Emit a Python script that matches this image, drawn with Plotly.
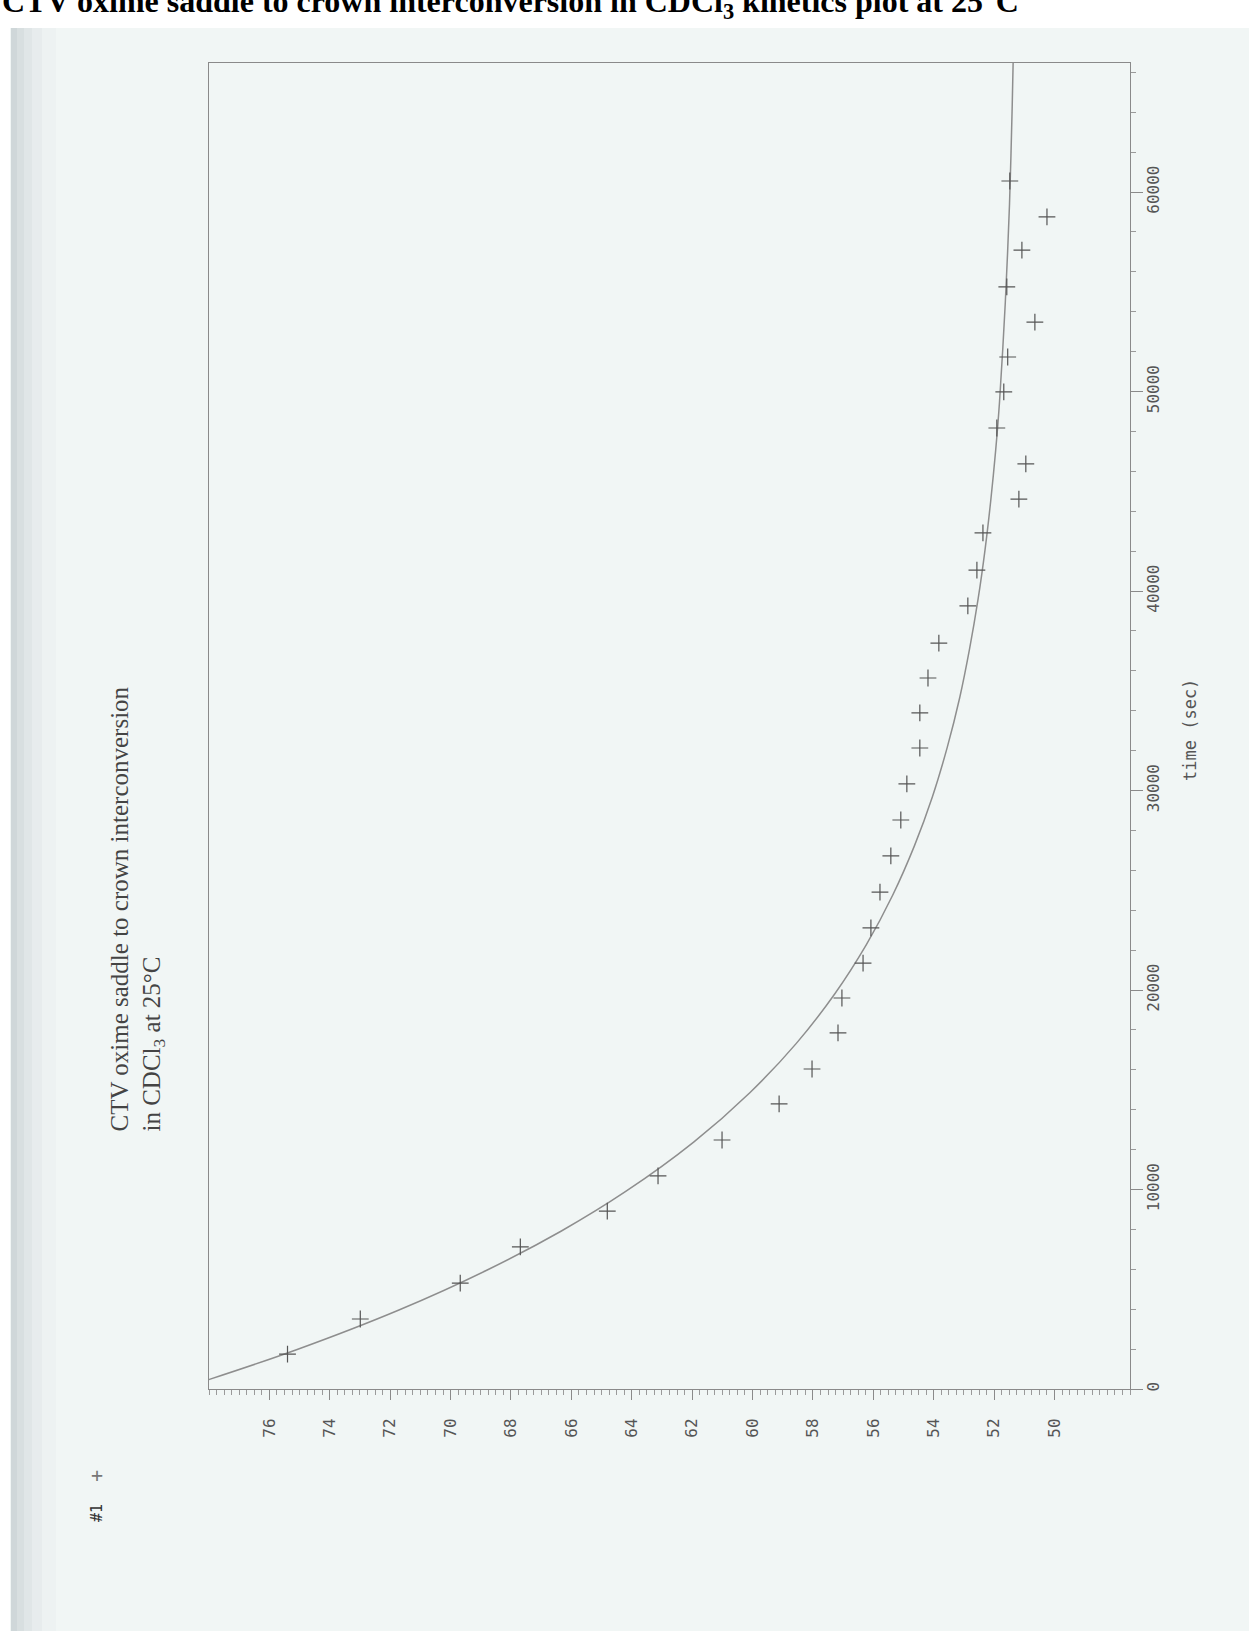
import plotly.graph_objects as go

# Measured points: elapsed time (s) and signal
time_s = [1750, 3510, 5310, 7120, 8920, 10680, 12480, 14290, 16040, 17850,
          19600, 21350, 23110, 24910, 26720, 28520, 30330, 32130, 33890, 35640,
          37390, 39250, 41050, 42910, 44610, 46370, 48170, 49980, 51730, 53480,
          55240, 57090, 58750, 60550]
signal = [75.40, 72.99, 69.68, 67.69, 64.81, 63.13, 61.01, 59.12, 58.03, 57.17,
          57.04, 56.34, 56.08, 55.78, 55.42, 55.09, 54.89, 54.46, 54.46, 54.19,
          53.83, 52.87, 52.57, 52.37, 51.18, 50.95, 51.91, 51.68, 51.55, 50.65,
          51.58, 51.08, 50.25, 51.48]

# First-order fit curve, sampled along the time axis
fit_time = [0, 495, 1980, 3960, 5940, 7920, 9900, 12375, 14850, 17325, 19800,
            22275, 24750, 27225, 29700, 32175, 34650, 37125, 39600, 42075,
            44550, 47025, 49500, 54450, 59400, 64350, 66500]
fit_signal = [79.00, 77.96, 75.08, 71.71, 68.82, 66.33, 64.20, 61.95, 60.09,
              58.55, 57.28, 56.23, 55.36, 54.64, 54.04, 53.55, 53.14, 52.81,
              52.53, 52.30, 52.11, 51.95, 51.82, 51.63, 51.49, 51.40, 51.37]

value_ticks = [50, 52, 54, 56, 58, 60, 62, 64, 66, 68, 70, 72, 74, 76]
time_ticks = [0, 10000, 20000, 30000, 40000, 50000, 60000]

W, H = 1249, 1631
L, R, T, B = 209, 1130, 63, 1389  # plot area in page pixels


def px(x):
    return (x - L) / (R - L)


def py(y):
    return (B - y) / (B - T)


MONO = "DejaVu Sans Mono"
SERIF = "Liberation Serif"

fig = go.Figure()
fig.add_trace(go.Scatter(
    x=fit_signal, y=fit_time, mode="lines",
    line=dict(color="#8e8e8e", width=1.5, shape="spline", smoothing=0.8),
    hoverinfo="skip", showlegend=False))
fig.add_trace(go.Scatter(
    x=signal, y=time_s, mode="markers",
    marker=dict(symbol="cross-thin", size=12,
                line=dict(color="#555555", width=1.2)),
    showlegend=False))

axis_common = dict(
    showline=True, linecolor="#8a8a8a", linewidth=1, mirror=True,
    showgrid=False, zeroline=False, ticks="outside", tickcolor="#8a8a8a",
    tickangle=-90, tickfont=dict(family=MONO, size=16, color="#555555"),
)

fig.update_layout(
    width=W, height=H, autosize=False,
    margin=dict(l=L, r=W - R, t=T, b=H - B),
    paper_bgcolor="white", plot_bgcolor="rgba(0,0,0,0)",
    xaxis=dict(
        range=[78, 47.5], tickmode="array", tickvals=value_ticks,
        ticktext=[str(v) for v in value_ticks], ticklen=10,
        ticklabelstandoff=12,
        minor=dict(tickmode="linear", tick0=0, dtick=0.25, ticks="outside",
                   ticklen=5, tickcolor="#9a9a9a"),
        **axis_common),
    yaxis=dict(
        side="right", range=[0, 66466], tickmode="array", tickvals=time_ticks,
        ticktext=[str(v) for v in time_ticks], ticklen=12,
        ticklabelstandoff=-3,
        minor=dict(tickmode="linear", tick0=0, dtick=2000, ticks="outside",
                   ticklen=5, tickcolor="#9a9a9a"),
        **axis_common),
)

# scanned sheet and its shaded left edge
shapes = [
    dict(type="rect", xref="paper", yref="paper", layer="below",
         x0=px(10), x1=px(W), y0=py(H), y1=py(28),
         fillcolor="#f1f6f5", line=dict(width=0)),
]
edge_bands = [(11, 17, "#cfd7d9"), (17, 24, "#d8dfe0"), (24, 32, "#e0e6e7"),
              (32, 42, "#e7eced"), (42, 56, "#edf2f2")]
for x0, x1, c in edge_bands:
    shapes.append(dict(type="rect", xref="paper", yref="paper", layer="below",
                       x0=px(x0), x1=px(x1), y0=py(H), y1=py(28),
                       fillcolor=c, line=dict(width=0)))
fig.update_layout(shapes=shapes)

annotations = [
    # page heading
    dict(text="<b>CTV oxime saddle to crown interconversion in CDCl<sub>3</sub> kinetics plot at 25°C</b>",
         xref="paper", yref="paper", x=px(0), y=py(26), xanchor="left",
         yanchor="bottom", showarrow=False,
         font=dict(family=SERIF, size=32, color="black")),
    # axis title
    dict(text="time (sec)", xref="paper", yref="paper", x=px(1190), y=py(730),
         xanchor="center", yanchor="middle", textangle=-90, showarrow=False,
         font=dict(family=MONO, size=17, color="#555555")),
    # plot caption
    dict(text="CTV oxime saddle to crown interconversion<br>in CDCl<sub>3</sub> at 25°C",
         xref="paper", yref="paper", x=px(137), y=py(1134), xanchor="center",
         yanchor="bottom", textangle=-90, align="left", showarrow=False,
         font=dict(family=SERIF, size=25, color="#444444")),
    # series key
    dict(text="+", xref="paper", yref="paper", x=px(97), y=py(1475),
         xanchor="center", yanchor="middle", showarrow=False,
         font=dict(family=MONO, size=20, color="#777777")),
    dict(text="#1", xref="paper", yref="paper", x=px(97), y=py(1513),
         xanchor="center", yanchor="middle", textangle=-90, showarrow=False,
         font=dict(family=MONO, size=15, color="#333333")),
]
fig.update_layout(annotations=annotations)

fig.write_html("out.html")
